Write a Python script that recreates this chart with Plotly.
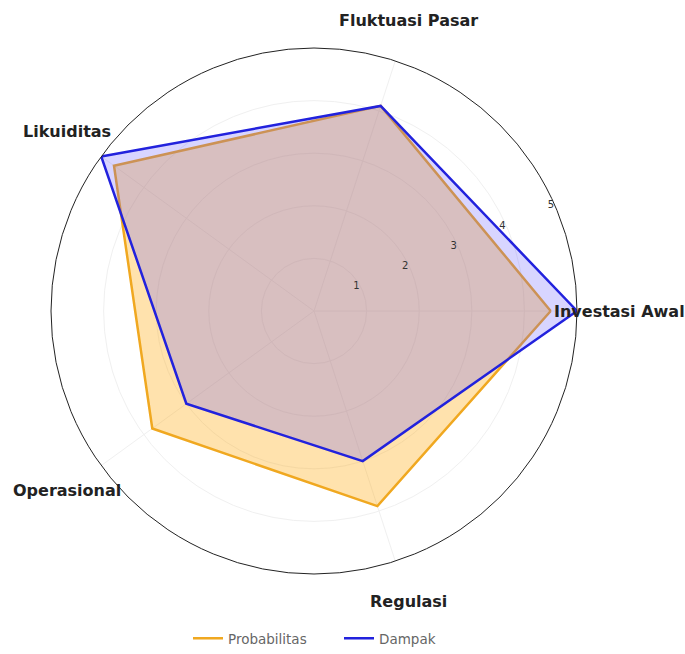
import math
import plotly.graph_objects as go

categories = ["Investasi Awal", "Fluktuasi Pasar", "Likuiditas", "Operasional", "Regulasi"]
probabilitas = [4.5, 4.1, 4.7, 3.8, 3.9]
dampak = [5.0, 4.1, 5.0, 3.0, 3.0]
radial_ticks = [1, 2, 3, 4, 5]

W, H = 685, 654
cx, cy, R = 314, 311, 263
LABEL_R = 305  # px from centre for category labels

orange = "#f0a820"
blue = "#2222dd"

fig = go.Figure()
fig.add_trace(go.Scatterpolar(
    r=probabilitas + probabilitas[:1], theta=categories + categories[:1],
    mode="lines", fill="toself", name="Probabilitas",
    line=dict(color=orange, width=2.5), fillcolor="rgba(255,165,0,0.32)",
    showlegend=False))
fig.add_trace(go.Scatterpolar(
    r=dampak + dampak[:1], theta=categories + categories[:1],
    mode="lines", fill="toself", name="Dampak",
    line=dict(color=blue, width=2.5), fillcolor="rgba(90,80,255,0.24)",
    showlegend=False))
# legend entries (lines only)
fig.add_trace(go.Scatterpolar(r=[None], theta=[categories[0]], mode="lines",
                              name="Probabilitas", line=dict(color=orange, width=2.5)))
fig.add_trace(go.Scatterpolar(r=[None], theta=[categories[0]], mode="lines",
                              name="Dampak", line=dict(color=blue, width=2.5)))

# category labels centred outside the circle
annotations = []
n = len(categories)
for i, cat in enumerate(categories):
    ang = 2 * math.pi * i / n
    px = cx + LABEL_R * math.cos(ang)
    py = cy - LABEL_R * math.sin(ang)
    annotations.append(dict(
        text=f"<b>{cat}</b>", x=px / W, y=1 - py / H, xref="paper", yref="paper",
        xanchor="center", yanchor="middle", showarrow=False,
        font=dict(size=16, family="DejaVu Sans", color="#222")))

fig.update_layout(
    width=W, height=H,
    margin=dict(l=0, r=0, t=0, b=0),
    paper_bgcolor="white",
    font=dict(family="DejaVu Sans", color="#333"),
    annotations=annotations,
    polar=dict(
        domain=dict(x=[(cx - R) / W, (cx + R) / W], y=[(H - cy - R) / H, (H - cy + R) / H]),
        bgcolor="white",
        angularaxis=dict(
            rotation=0, direction="counterclockwise",
            showline=True, linecolor="#222", linewidth=1,
            gridcolor="#f0f0f0", gridwidth=1,
            ticks="", showticklabels=False,
        ),
        radialaxis=dict(
            range=[0, 5], tickvals=radial_ticks, ticktext=[str(t) for t in radial_ticks],
            angle=22.5, tickangle=22.5, side="counterclockwise", showline=False, ticks="",
            gridcolor="#f0f0f0", gridwidth=1,
            tickfont=dict(size=10, color="#333"),
        ),
    ),
    legend=dict(orientation="h", x=(cx + 25) / W, xanchor="center", y=0.0,
                yanchor="bottom", itemwidth=30, entrywidth=106,
                font=dict(size=13.5, color="#666")),
)

fig.write_html("out.html", config={"displayModeBar": False},
               post_script="document.body.style.margin='0';document.body.style.overflow='hidden';")
